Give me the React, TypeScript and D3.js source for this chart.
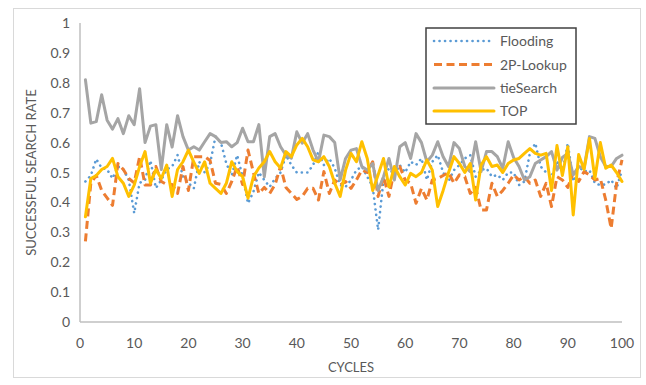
import React from "react";
import * as d3 from "d3";

const cycles: number[] = d3.range(1, 101);

const flooding: number[] = [
  0.47, 0.49, 0.545, 0.515, 0.51, 0.48, 0.52, 0.51, 0.475, 0.364,
  0.465, 0.475, 0.54, 0.448, 0.475, 0.51, 0.52, 0.558, 0.486, 0.465,
  0.447, 0.536, 0.5, 0.53, 0.62, 0.6, 0.53, 0.49, 0.558, 0.486,
  0.397, 0.436, 0.5, 0.475, 0.452, 0.48, 0.5, 0.558, 0.525, 0.5,
  0.5, 0.5, 0.525, 0.57, 0.525, 0.547, 0.514, 0.458, 0.452, 0.475,
  0.508, 0.52, 0.486, 0.452, 0.308, 0.475, 0.514, 0.492, 0.525, 0.5,
  0.536, 0.525, 0.547, 0.475, 0.536, 0.558, 0.5, 0.47, 0.508, 0.525,
  0.547, 0.558, 0.486, 0.508, 0.514, 0.486, 0.492, 0.475, 0.5, 0.5,
  0.458, 0.47, 0.564, 0.598, 0.52, 0.5, 0.486, 0.54, 0.5, 0.598,
  0.47, 0.52, 0.503, 0.508, 0.464, 0.458, 0.46, 0.475, 0.447, 0.508,
];

const twoPLookup: number[] = [
  0.27, 0.465, 0.49, 0.44, 0.415, 0.39, 0.53, 0.51, 0.48, 0.465,
  0.553, 0.458, 0.458, 0.52, 0.47, 0.46, 0.46, 0.43, 0.52, 0.44,
  0.553, 0.553, 0.553, 0.54, 0.464, 0.46, 0.43, 0.47, 0.52, 0.46,
  0.575, 0.5, 0.43, 0.45, 0.43, 0.46, 0.52, 0.45, 0.43, 0.41,
  0.42, 0.447, 0.447, 0.408, 0.503, 0.43, 0.475, 0.458, 0.47, 0.447,
  0.475, 0.508, 0.5, 0.536, 0.42, 0.486, 0.42, 0.508, 0.52, 0.475,
  0.464, 0.397, 0.447, 0.408, 0.475, 0.48, 0.49, 0.5, 0.464, 0.492,
  0.486, 0.43, 0.45, 0.375, 0.375, 0.464, 0.42, 0.44, 0.464, 0.492,
  0.475, 0.486, 0.464, 0.475, 0.42, 0.464, 0.386, 0.486, 0.475, 0.45,
  0.5, 0.47, 0.503, 0.492, 0.475, 0.48, 0.408, 0.313, 0.464, 0.542,
];

const tieSearch: number[] = [
  0.81, 0.665, 0.67, 0.76, 0.675, 0.645, 0.68, 0.63, 0.69, 0.66,
  0.78, 0.6, 0.655, 0.66, 0.51, 0.66, 0.585, 0.69, 0.62, 0.575,
  0.586, 0.575, 0.603, 0.63, 0.62, 0.6, 0.603, 0.586, 0.6, 0.648,
  0.603, 0.603, 0.66, 0.486, 0.62, 0.63, 0.586, 0.558, 0.548, 0.636,
  0.598, 0.63, 0.575, 0.536, 0.625, 0.62, 0.6, 0.475, 0.547, 0.575,
  0.58, 0.52, 0.508, 0.53, 0.44, 0.486, 0.547, 0.475, 0.586, 0.6,
  0.547, 0.63, 0.6, 0.536, 0.558, 0.603, 0.553, 0.52, 0.6, 0.58,
  0.52, 0.503, 0.603, 0.503, 0.57, 0.57, 0.553, 0.514, 0.603, 0.55,
  0.52, 0.475, 0.486, 0.53, 0.542, 0.553, 0.57, 0.508, 0.55, 0.564,
  0.492, 0.52, 0.514, 0.62, 0.614, 0.553, 0.52, 0.52, 0.547, 0.558,
];

const top: number[] = [
  0.352, 0.48, 0.49, 0.51, 0.52, 0.547, 0.486, 0.464, 0.42, 0.458,
  0.52, 0.57, 0.464, 0.51, 0.48, 0.525, 0.42, 0.51, 0.536, 0.575,
  0.535, 0.497, 0.536, 0.464, 0.447, 0.43, 0.464, 0.536, 0.503, 0.486,
  0.414, 0.486, 0.515, 0.536, 0.57, 0.536, 0.515, 0.57, 0.553, 0.592,
  0.614, 0.586, 0.542, 0.536, 0.553, 0.52, 0.464, 0.42, 0.508, 0.564,
  0.536, 0.603, 0.547, 0.44, 0.492, 0.547, 0.452, 0.52, 0.486, 0.458,
  0.497, 0.486, 0.5, 0.542, 0.508, 0.386, 0.44, 0.5, 0.553, 0.53,
  0.5, 0.53, 0.408, 0.525, 0.553, 0.52, 0.525, 0.5, 0.53, 0.542,
  0.547, 0.564, 0.58, 0.564, 0.558, 0.564, 0.44, 0.59, 0.49, 0.586,
  0.358, 0.56, 0.51, 0.614, 0.48, 0.6, 0.514, 0.525, 0.5, 0.47,
];

const seriesNames: string[] = ["Flooding", "2P-Lookup", "tieSearch", "TOP"];
const xTicks: number[] = [0, 10, 20, 30, 40, 50, 60, 70, 80, 90, 100];
const yTicks: number[] = [0, 0.1, 0.2, 0.3, 0.4, 0.5, 0.6, 0.7, 0.8, 0.9, 1];

const styles = [
  { color: "#5B9BD5", width: 2.6, dash: "0.1 5.4", cap: "round" },
  { color: "#ED7D31", width: 3, dash: "8 4.5", cap: "butt" },
  { color: "#A5A5A5", width: 3, dash: "", cap: "round" },
  { color: "#FFC000", width: 3, dash: "", cap: "round" },
];

const W = 646;
const H = 385;
const FONT = "Lato, 'Open Sans', sans-serif";

export default function App() {
  const x = d3.scaleLinear().domain([0, 100]).range([80, 622]);
  const y = d3.scaleLinear().domain([0, 1]).range([322, 23]);
  const data = [flooding, twoPLookup, tieSearch, top];
  const line = d3
    .line<number>()
    .x((_, i) => x(cycles[i]))
    .y((d) => y(d));

  const legendX = 426;
  const legendY = 28;
  const legendRowY = [41, 64.5, 88, 111];

  return (
    <svg
      width={W}
      height={H}
      style={{ position: "absolute", left: 0, top: 0, background: "#fff" }}
      fontFamily={FONT}
    >
      <rect x={13.5} y={8.5} width={627} height={369} fill="#fff" stroke="#D9D9D9" strokeWidth={1} />
      {/* axes */}
      <line x1={x(0)} x2={x(0)} y1={y(0)} y2={y(1)} stroke="#BFBFBF" strokeWidth={1.5} />
      <line x1={x(0)} x2={x(100)} y1={y(0)} y2={y(0)} stroke="#BFBFBF" strokeWidth={1.5} />
      {yTicks.map((t) => (
        <text key={"y" + t} x={70} y={y(t) + 5} textAnchor="end" fontSize={14} fill="#595959">
          {d3.format("~g")(t)}
        </text>
      ))}
      {xTicks.map((t) => (
        <text key={"x" + t} x={x(t)} y={348} textAnchor="middle" fontSize={14} fill="#595959">
          {t}
        </text>
      ))}
      <text x={x(50)} y={372} textAnchor="middle" fontSize={13} fill="#595959">
        CYCLES
      </text>
      <text
        transform={`translate(36,${y(0.5)}) rotate(-90)`}
        textAnchor="middle"
        fontSize={13}
        fill="#595959"
      >
        SUCCESSFUL SEARCH RATE
      </text>
      {/* series */}
      {data.map((d, i) => (
        <path
          key={seriesNames[i]}
          d={line(d) || ""}
          fill="none"
          stroke={styles[i].color}
          strokeWidth={styles[i].width}
          strokeDasharray={styles[i].dash || undefined}
          strokeLinecap={styles[i].cap as any}
          strokeLinejoin="round"
        />
      ))}
      {/* legend */}
      <rect x={legendX} y={legendY} width={150} height={96} fill="#fff" stroke="#404040" strokeWidth={1.5} />
      {seriesNames.map((n, i) => (
        <g key={"lg" + n}>
          <line
            x1={434}
            x2={494}
            y1={legendRowY[i]}
            y2={legendRowY[i]}
            stroke={styles[i].color}
            strokeWidth={styles[i].width}
            strokeDasharray={styles[i].dash || undefined}
            strokeLinecap={styles[i].cap as any}
          />
          <text x={500} y={legendRowY[i] + 5} fontSize={14} fill="#595959">
            {n}
          </text>
        </g>
      ))}
    </svg>
  );
}
